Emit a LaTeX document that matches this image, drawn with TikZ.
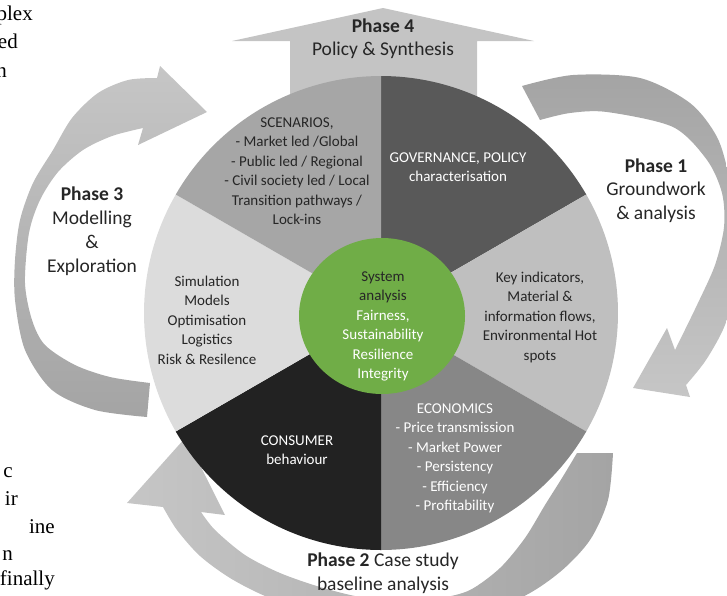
\documentclass[tikz,border=0pt]{standalone}
\usepackage{fontspec}
\setmainfont{Carlito}
\newfontfamily\docserif{Liberation Serif}
\definecolor{banddark}{HTML}{A4A4A4}
\definecolor{bandlight}{HTML}{C6C6C6}
\definecolor{arrowgray}{HTML}{C4C4C4}
\definecolor{scencol}{HTML}{A6A6A6}
\definecolor{govcol}{HTML}{595959}
\definecolor{keycol}{HTML}{BFBFBF}
\definecolor{ecocol}{HTML}{878787}
\definecolor{concol}{HTML}{222222}
\definecolor{simcol}{HTML}{DCDCDC}
\definecolor{syscol}{HTML}{70AD47}
\definecolor{inktext}{HTML}{262626}
\begin{document}
\begin{tikzpicture}[x=1pt,y=-1pt,
  segtext/.style={font=\fontsize{15}{19.5}\selectfont, align=center, anchor=base, inner sep=0pt, text=inktext},
  whitetext/.style={segtext, text=white},
  phasetext/.style={font=\fontsize{19.5}{23.5}\selectfont, align=center, anchor=base, inner sep=0pt, text=inktext},
  margintext/.style={font=\docserif\fontsize{21}{28}\selectfont, anchor=base east, inner sep=0pt, text=black},
]
\useasboundingbox (0,0) rectangle (727,595);
\clip (0,0) rectangle (727,595);

% ---- Phase 1 band (right) ----
\shade[top color=banddark, bottom color=bandlight] plot[smooth] coordinates {(522,86) (573,75) (640,78) (690,103) (717,137) (729,177) (737,230) (737,280) (725,325) (706,360) (686,385)}
  -- (690,397) -- (633,388) -- (667,328) -- (675,350)
  -- plot[smooth] coordinates {(675,350) (697,305) (715,265) (724,227) (722,193) (707,160) (673,127) (607,112) (570,113) (540,120)} -- cycle;

% ---- Phase 2 band (bottom) ----
\shade[right color=banddark, left color=bandlight] plot[smooth] coordinates {(613,453) (608,500) (590,540) (560,572) (520,598) (460,615) (383,622) (310,612) (265,596) (230,578) (200,556) (177,530) (163,507)}
  -- (127,503) -- (186,437) -- (225,515) -- (201,512)
  -- plot[smooth] coordinates {(201,512) (215,530) (245,555) (280,573) (320,587) (360,597) (400,601) (440,598) (470,590) (500,568) (525,538) (545,505) (562,478) (577,453)} -- cycle;

% ---- Phase 3 band (left) ----
\shade[bottom color=banddark, top color=bandlight] plot[smooth] coordinates {(147,417) (95,410) (52,390) (25,350) (15,300) (15,260) (20,220) (33,183) (53,150) (72,118) (98,93) (128,80) (157,78)}
  -- (160,66) -- (207,112) -- (138,145) -- (143,128)
  -- plot[smooth] coordinates {(143,128) (112,136) (83,150) (58,172) (40,200) (29,233) (25,283) (32,320) (45,345) (75,365) (110,377) (150,383)} -- cycle;

% ---- Phase 4 arrow (top) ----
\fill[arrowgray] (232,41) -- (383,8) -- (534,41) -- (477,41) -- (477,110) -- (290,110) -- (290,41) -- cycle;

% ---- main circle segments ----
\coordinate (C) at (381,313);
\fill[govcol]  (C) -- plot[domain=270:330, samples=40] ({381+237*cos(\x)},{313+237*sin(\x)}) -- cycle;
\fill[keycol]  (C) -- plot[domain=330:390, samples=40] ({381+237*cos(\x)},{313+237*sin(\x)}) -- cycle;
\fill[ecocol]  (C) -- plot[domain=30:90,   samples=40] ({381+237*cos(\x)},{313+237*sin(\x)}) -- cycle;
\fill[concol]  (C) -- plot[domain=90:150,  samples=40] ({381+237*cos(\x)},{313+237*sin(\x)}) -- cycle;
\fill[simcol]  (C) -- plot[domain=150:210, samples=40] ({381+237*cos(\x)},{313+237*sin(\x)}) -- cycle;
\fill[scencol] (C) -- plot[domain=210:270, samples=40] ({381+237*cos(\x)},{313+237*sin(\x)}) -- cycle;

% ---- centre ----
\fill[syscol] (382,316) ellipse [x radius=83pt, y radius=78pt];

% ---- segment texts (anchor = baseline of last line) ----
\node[segtext] (scen) at (297,224.5) {SCENARIOS,\\- Market led /Global\\- Public led / Regional\\- Civil society led / Local\\Transition pathways /\\Lock-ins};
\node[whitetext] (gov) at (458,181.5) {GOVERNANCE, POLICY\\characterisation};
\node[segtext] (key) at (540,360) {Key indicators,\\Material \&\\information flows,\\Environmental Hot\\spots};
\node[whitetext] (eco) at (455,510.5) {ECONOMICS\\- Price transmission\\- Market Power\\- Persistency\\- Efficiency\\- Profitability};
\node[whitetext] (cons) at (297,464.5) {CONSUMER\\behaviour};
\node[segtext] (sim) at (207,364) {Simulation\\Models\\Optimisation\\Logistics\\Risk \& Resilence};
\node[segtext] (sys) at (383,300.5) {System\\analysis};
\node[whitetext] (sysb) at (383,378.5) {Fairness,\\Sustainability\\Resilience\\Integrity};

% ---- phase texts ----
\node[phasetext] (p4) at (383,55.5) {\textbf{Phase 4}\\Policy \& Synthesis};
\node[phasetext] (p1) at (656,219) {\textbf{Phase 1}\\Groundwork\\\& analysis};
\node[phasetext, font=\fontsize{19.5}{24}\selectfont] (p3) at (92,272) {\textbf{Phase 3}\\Modelling\\\&\\Exploration};
\node[phasetext] (p2) at (383,590) {\textbf{Phase 2} Case study\\baseline analysis};

% ---- surrounding document text ----
\node[margintext] (m1) at (33,20) {plex};
\node[margintext] (m2) at (18,48) {ed};
\node[margintext] (m3) at (7,77) {n};
\node[margintext] (m4) at (13,477) {c};
\node[margintext] (m5) at (18,505) {ir};
\node[margintext] (m6) at (55,533) {ine};
\node[margintext] (m7) at (13,560) {n};
\node[margintext] (m8) at (55,585) {finally};
\end{tikzpicture}
\end{document}
